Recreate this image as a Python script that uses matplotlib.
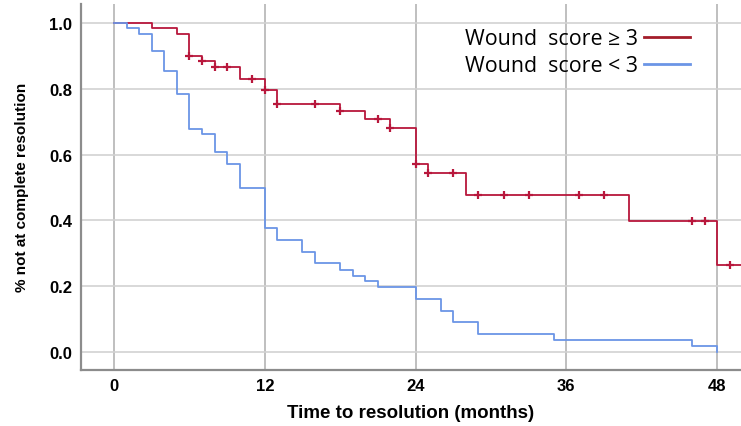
import numpy as np
import matplotlib.pyplot as plt

# Kaplan-Meier steps (months, fraction not resolved)
red_t = [0, 3, 5, 6, 7, 8, 10, 12, 13, 18, 20, 22, 24, 25, 28, 41, 48, 50]
red_s = [1.0, 0.985, 0.967, 0.902, 0.886, 0.868, 0.832, 0.796, 0.755, 0.734,
         0.708, 0.682, 0.573, 0.543, 0.477, 0.398, 0.265, 0.265]
red_censor = [6, 7, 8, 9, 11, 12, 13, 16, 18, 21, 22, 24, 25, 27,
              29, 31, 33, 37, 39, 46, 47, 49]

blue_t = [0, 1, 2, 3, 4, 5, 6, 7, 8, 9, 10, 12, 13, 15, 16, 18, 19, 20, 21,
          24, 26, 27, 29, 35, 46, 48]
blue_s = [1.0, 0.985, 0.967, 0.915, 0.856, 0.785, 0.679, 0.663, 0.607, 0.572,
          0.499, 0.376, 0.340, 0.303, 0.269, 0.250, 0.232, 0.215, 0.196,
          0.161, 0.125, 0.090, 0.054, 0.036, 0.018, 0.0]

x_ticks = [0, 12, 24, 36, 48]
y_ticks = [0.0, 0.2, 0.4, 0.6, 0.8, 1.0]

red = '#b8173c'
blue = '#6b95e6'


def level_at(times, surv, t):
    i = np.searchsorted(times, t, side='right') - 1
    return np.asarray(surv)[i]


fig = plt.figure(figsize=(7.41, 4.27), dpi=100)
ax = fig.add_axes([80.7 / 741, 1 - 370.7 / 427, 1 - 80.7 / 741, (370.7 - 5) / 427])

ax.step(red_t, red_s, where='post', color=red, lw=1.3, label='Wound  score \u2265 3', zorder=3)
ax.step(blue_t, blue_s, where='post', color=blue, lw=1.3, label='Wound  score < 3', zorder=3)
ax.plot(red_censor, level_at(red_t, red_s, red_censor), ls='none', marker='+',
        ms=6, mew=1.6, color=red, zorder=4)

ax.set_xlim(-2.65, 49.9)
ax.set_ylim(-0.0545, 1.059)
ax.set_xticks(x_ticks)
ax.set_yticks(y_ticks)
ax.set_yticklabels([f'{v:.1f}' for v in y_ticks])

for v in x_ticks:
    ax.axvline(v, color='#b4b4b4', lw=1.2, zorder=1)
for v in y_ticks:
    ax.axhline(v, color='#d2d2d2', lw=1.2, zorder=1)

for s in ['top', 'right']:
    ax.spines[s].set_visible(False)
for s in ['left', 'bottom']:
    ax.spines[s].set_color('#8c8c8c')
    ax.spines[s].set_linewidth(1.6)

ax.tick_params(length=0, labelsize=12, pad=6)
for lab in ax.get_xticklabels() + ax.get_yticklabels():
    lab.set_fontfamily('Liberation Sans')
    lab.set_fontweight('bold')

ax.set_xlabel('Time to resolution (months)', fontsize=13.5, fontweight='bold',
              family='Liberation Sans', labelpad=8)
ax.set_ylabel('% not at complete resolution', fontsize=11, family='Liberation Sans',
              fontweight='semibold', labelpad=15)

leg = ax.legend(loc='upper right', bbox_to_anchor=(690 / 741, 1 - 29 / 427),
                bbox_transform=fig.transFigure, frameon=False, markerfirst=False,
                handlelength=2.15, handletextpad=0.28, labelspacing=0.29,
                borderpad=0, borderaxespad=0,
                prop={'family': 'Open Sans', 'size': 15.4})
leg.get_lines()[0].set_color('#a31d2a')
leg.get_lines()[0].set_linewidth(2)
leg.get_lines()[1].set_linewidth(2)

fig.savefig('out.png', dpi=100)
